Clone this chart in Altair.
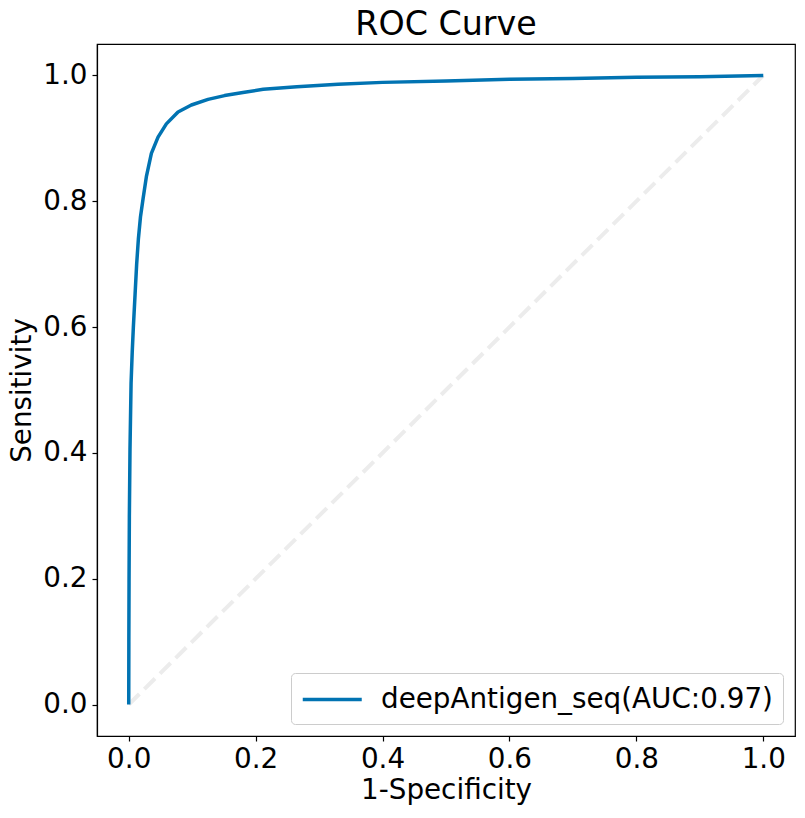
import altair as alt
import pandas as pd

fpr = [0, 0.0002, 0.0005, 0.001, 0.002, 0.0037, 0.0055, 0.0073, 0.010, 0.0125,
       0.0152, 0.0185, 0.0226, 0.0278, 0.0357, 0.0462, 0.0593, 0.0777, 0.0987,
       0.125, 0.151, 0.180, 0.212, 0.265, 0.33, 0.4, 0.5, 0.6, 0.7, 0.8, 0.9, 1.0]
tpr = [0, 0.10, 0.194, 0.299, 0.405, 0.511, 0.56, 0.600, 0.652, 0.70,
       0.74, 0.775, 0.804, 0.839, 0.876, 0.902, 0.923, 0.942, 0.953,
       0.962, 0.968, 0.973, 0.978, 0.982, 0.986, 0.989, 0.991, 0.994, 0.995,
       0.997, 0.998, 1.0]
series_label = "deepAntigen_seq(AUC:0.97)"
diag_x = [0.0, 1.0]
diag_y = [0.0, 1.0]
ticks = [0.0, 0.2, 0.4, 0.6, 0.8, 1.0]

curve = pd.DataFrame({"fpr": fpr, "tpr": tpr, "series": series_label,
                      "order": list(range(len(fpr)))})
diag = pd.DataFrame({"fpr": diag_x, "tpr": diag_y})

FONT = "DejaVu Sans"
xs = alt.Scale(domain=[-0.05, 1.05], nice=False, zero=False)
ys = alt.Scale(domain=[-0.05, 1.05], nice=False, zero=False)

xaxis = alt.Axis(values=ticks, format=".1f", title="1-Specificity", grid=False,
                 labelFontSize=27.8, titleFontSize=27.8, tickSize=5,
                 labelPadding=4, titlePadding=4, labelFlush=False)
yaxis = alt.Axis(values=ticks, format=".1f", title="Sensitivity", grid=False,
                 labelFontSize=27.8, titleFontSize=27.8, tickSize=5,
                 labelPadding=5, titlePadding=6, labelFlush=False)

diag_layer = alt.Chart(diag).mark_line(
    color="#ececec", strokeWidth=4, strokeDash=[15, 7]
).encode(
    x=alt.X("fpr:Q", scale=xs, axis=xaxis),
    y=alt.Y("tpr:Q", scale=ys, axis=yaxis),
)

curve_layer = alt.Chart(curve).mark_line(strokeWidth=3.5, strokeJoin="round").encode(
    x=alt.X("fpr:Q", scale=xs, axis=xaxis),
    y=alt.Y("tpr:Q", scale=ys, axis=yaxis),
    order="order:Q",
    color=alt.Color("series:N",
                    scale=alt.Scale(domain=[series_label], range=["#0173b2"]),
                    legend=alt.Legend(title=None, orient="none",
                                      legendX=194, legendY=629,
                                      symbolType="M-1,0L3,0", symbolSize=870,
                                      symbolStrokeWidth=3.5,
                                      labelFontSize=27.8, labelOffset=47,
                                      labelLimit=0,
                                      padding=10, cornerRadius=4,
                                      strokeColor="#cccccc",
                                      fillColor="white")),
)

chart = alt.layer(diag_layer, curve_layer).properties(
    width=698, height=692,
    title=alt.TitleParams("ROC Curve", fontSize=33.3, font=FONT,
                          fontWeight="normal", anchor="middle", offset=2),
    autosize=alt.AutoSizeParams(type="none"),
    padding={"left": 97, "top": 44, "right": 10, "bottom": 82},
).configure(font=FONT).configure_axis(
    domainColor="black", tickColor="black", labelColor="black",
    titleColor="black", labelFont=FONT, titleFont=FONT,
    titleFontWeight="normal", domainWidth=1.2, tickWidth=1.2,
).configure_view(stroke="black", strokeWidth=1.2).configure_legend(
    labelFont=FONT, labelColor="black"
)

chart.save("out.html", embed_options={"renderer": "svg", "actions": False})
